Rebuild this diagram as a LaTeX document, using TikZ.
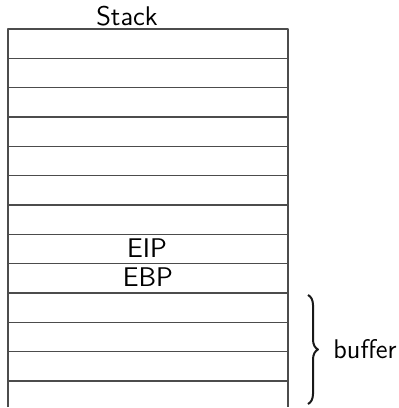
\documentclass[tikz,border=0pt]{standalone}
\usepackage{tikz}
\usetikzlibrary{decorations.pathreplacing}

\begin{document}
\begin{tikzpicture}[x=0.5pt, y=-0.5pt, line join=round, font=\sffamily\fontsize{13.5}{16}\selectfont]
\useasboundingbox (0,0) rectangle (398,408);
% Stack frame corners
\coordinate (TL) at (8, 29);
\coordinate (TR) at (288, 29);
\coordinate (BL) at (8, 407);
\coordinate (BR) at (288, 407);
% Side walls
\draw[black!70, line width=0.75pt] (BL) -- (TL) -- (TR) -- (BR);
% Slot separators
\foreach \i in {1,...,12}
  \draw[black!70, line width=0.75pt] (8, 29+29.33*\i) -- (288, 29+29.33*\i);
% Labels
\node (stack) at (127, 16) {Stack};
\node (eip) at (147, 248) {EIP};
\node (ebp) at (148, 277) {EBP};
% Buffer brace
\coordinate (B0) at (308, 295);
\coordinate (B1) at (308, 404);
\draw[black!90, line width=1pt, decorate, decoration={brace, amplitude=5pt}] (B0) -- (B1);
\node[right, inner sep=0pt] (buf) at (333, 349) {buffer};
\end{tikzpicture}
\end{document}
